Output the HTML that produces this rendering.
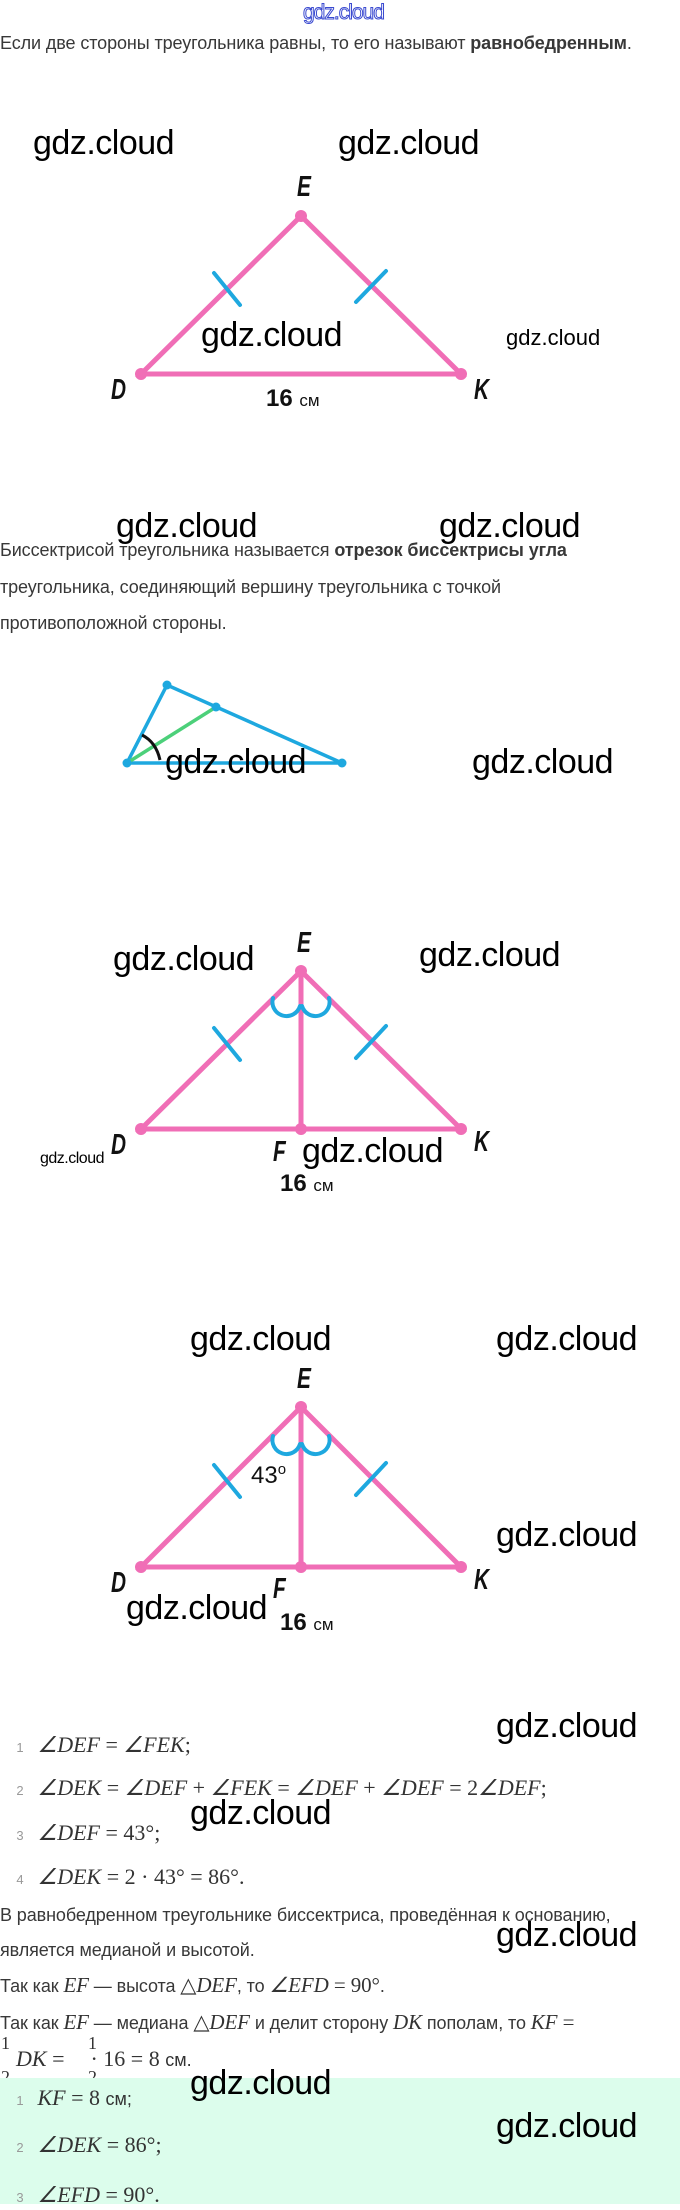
<!DOCTYPE html>
<html><head><meta charset="utf-8">
<style>
*{margin:0;padding:0;box-sizing:border-box}
body{width:680px;height:2204px;position:relative;background:#fff;overflow:hidden;font-family:"Liberation Sans",sans-serif;color:#333}
.a{position:absolute;white-space:nowrap}
.t{font-size:18px;line-height:20px;color:#383838;letter-spacing:-0.1px}
.w{font-size:34px;line-height:34px;color:#000;letter-spacing:-0.5px}
.m{font-family:"Liberation Serif",serif;font-style:italic;font-size:22px;line-height:24px;color:#333}
.n{font-size:13px;color:#999;font-style:normal;font-family:"Liberation Sans",sans-serif;display:inline-block;width:24px;text-align:center}
.r{font-style:normal}
.L{font-size:29px;line-height:30px;font-style:italic;font-weight:bold;color:#111;transform:scaleX(0.72);transform-origin:left}
.cm{font-size:24px;line-height:26px;color:#111;font-weight:bold}
.cm span{font-size:17px;font-weight:normal}
.sp{display:inline-block;width:16px}
</style></head><body>
<div style="position:absolute;left:0;top:2078px;width:680px;height:126px;background:#dcfdec"></div>
<svg class="a" style="left:0;top:0" width="680" height="2204">
<g stroke="#f06eb6" stroke-width="5" fill="none" stroke-linecap="round">
<path d="M141,374 L301,216 L461,374 Z"/>
<path d="M141,1129 L301,971 L461,1129 Z M301,971 L301,1129"/>
<path d="M141,1567 L301,1407 L461,1567 Z M301,1407 L301,1567"/>
</g>
<g fill="#f06eb6">
<circle cx="301" cy="216" r="6"/><circle cx="141" cy="374" r="6"/><circle cx="461" cy="374" r="6"/>
<circle cx="301" cy="971" r="6"/><circle cx="141" cy="1129" r="6"/><circle cx="461" cy="1129" r="6"/><circle cx="301" cy="1129" r="6"/>
<circle cx="301" cy="1407" r="6"/><circle cx="141" cy="1567" r="6"/><circle cx="461" cy="1567" r="6"/><circle cx="301" cy="1567" r="6"/>
</g>
<g stroke="#1ea8df" stroke-width="4" fill="none" stroke-linecap="round">
<path d="M214,273 L240,305 M386,271 L356,302"/>
<path d="M214,1028 L240,1060 M386,1026 L356,1058"/>
<path d="M214,1465 L240,1497 M386,1463 L356,1495"/>
<path d="M273,998 A14,14 0 0 0 300,1006 M302,1006 A14,14 0 0 0 329,998"/>
<path d="M273,1436 A14,14 0 0 0 300,1444 M302,1444 A14,14 0 0 0 329,1436"/>
</g>
<g stroke-width="3.5" fill="none">
<path d="M127,763 L167,685 L342,763 Z" stroke="#1ea8df"/>
<path d="M127,763 L216,707" stroke="#4cd07a"/>
<path d="M142,735 Q156,742 160,760" stroke="#111" stroke-width="3"/>
</g>
<g fill="#1ea8df"><circle cx="167" cy="685" r="4.5"/><circle cx="216" cy="707" r="4.5"/><circle cx="127" cy="763" r="4.5"/><circle cx="342" cy="763" r="4.5"/></g>
</svg>

<div class="a" style="left:303px;top:1px;font-size:21px;color:#fff;-webkit-text-stroke:1px #3a4ad0;letter-spacing:-1px">gdz.cloud</div>
<div class="a t" style="left:0;top:33px">Если две стороны треугольника равны, то его называют <b>равнобедренным</b>.</div>

<div class="a w" style="left:33px;top:126px">gdz.cloud</div>
<div class="a w" style="left:338px;top:126px">gdz.cloud</div>
<div class="a L" style="left:297px;top:172px">E</div>
<div class="a w" style="left:201px;top:318px">gdz.cloud</div>
<div class="a" style="left:506px;top:325px;font-size:22px;color:#000">gdz.cloud</div>
<div class="a L" style="left:111px;top:375px">D</div>
<div class="a L" style="left:474px;top:375px">K</div>
<div class="a cm" style="left:266px;top:386px">16 <span>см</span></div>

<div class="a w" style="left:116px;top:509px">gdz.cloud</div>
<div class="a w" style="left:439px;top:509px">gdz.cloud</div>
<div class="a t" style="left:0;top:540px">Биссектрисой треугольника называется <b>отрезок биссектрисы угла</b></div>
<div class="a t" style="left:0;top:577px">треугольника, соединяющий вершину треугольника с точкой</div>
<div class="a t" style="left:0;top:613px">противоположной стороны.</div>
<div class="a w" style="left:165px;top:745px">gdz.cloud</div>
<div class="a w" style="left:472px;top:745px">gdz.cloud</div>

<div class="a L" style="left:297px;top:928px">E</div>
<div class="a w" style="left:113px;top:942px">gdz.cloud</div>
<div class="a w" style="left:419px;top:938px">gdz.cloud</div>
<div class="a L" style="left:111px;top:1130px">D</div>
<div class="a" style="left:40px;top:1150px;font-size:16px;color:#000;letter-spacing:-0.5px">gdz.cloud</div>
<div class="a L" style="left:273px;top:1137px">F</div>
<div class="a w" style="left:302px;top:1134px">gdz.cloud</div>
<div class="a L" style="left:474px;top:1127px">K</div>
<div class="a cm" style="left:280px;top:1171px">16 <span>см</span></div>

<div class="a w" style="left:190px;top:1322px">gdz.cloud</div>
<div class="a w" style="left:496px;top:1322px">gdz.cloud</div>
<div class="a L" style="left:297px;top:1364px">E</div>
<div class="a" style="left:251px;top:1461px;font-size:24px;color:#111">43<sup style="font-size:15px">o</sup></div>
<div class="a w" style="left:496px;top:1518px">gdz.cloud</div>
<div class="a L" style="left:111px;top:1568px">D</div>
<div class="a L" style="left:273px;top:1574px">F</div>
<div class="a L" style="left:474px;top:1565px">K</div>
<div class="a w" style="left:126px;top:1591px">gdz.cloud</div>
<div class="a cm" style="left:280px;top:1610px">16 <span>см</span></div>

<div class="a w" style="left:496px;top:1709px">gdz.cloud</div>
<div class="a m" style="left:8px;top:1733px"><span class="n">1</span> ∠DEF <span class="r">=</span> ∠FEK<span class="r">;</span></div>
<div class="a m" style="left:8px;top:1776px"><span class="n">2</span> ∠DEK <span class="r">=</span> ∠DEF <span class="r">+</span> ∠FEK <span class="r">=</span> ∠DEF <span class="r">+</span> ∠DEF <span class="r">= 2</span>∠DEF<span class="r">;</span></div>
<div class="a w" style="left:190px;top:1796px">gdz.cloud</div>
<div class="a m" style="left:8px;top:1821px"><span class="n">3</span> ∠DEF <span class="r">= 43°;</span></div>
<div class="a m" style="left:8px;top:1865px"><span class="n">4</span> ∠DEK <span class="r">= 2 · 43° = 86°.</span></div>
<div class="a t" style="left:0;top:1905px">В равнобедренном треугольнике биссектриса, проведённая к основанию,</div>
<div class="a w" style="left:496px;top:1918px">gdz.cloud</div>
<div class="a t" style="left:0;top:1940px">является медианой и высотой.</div>
<div class="a t" style="left:0;top:1973px">Так как <span class="m" style="font-size:21px">EF</span> — высота <span class="m" style="font-size:21px"><span class="r">△</span>DEF</span>, то <span class="m" style="font-size:21px">∠EFD <span class="r">= 90°</span></span>.</div>
<div class="a t" style="left:0;top:2010px">Так как <span class="m" style="font-size:21px">EF</span> — медиана <span class="m" style="font-size:21px"><span class="r">△</span>DEF</span> и делит сторону <span class="m" style="font-size:21px">DK</span> пополам, то <span class="m" style="font-size:21px">KF <span class="r">=</span></span></div>
<div class="a m r" style="left:1px;top:2034px;font-style:normal;font-size:18px;line-height:18px">1</div>
<div class="a m r" style="left:88px;top:2034px;font-style:normal;font-size:18px;line-height:18px">1</div>
<div class="a m" style="left:0;top:2047px"><span class="sp"></span>DK <span class="r">=</span><span class="sp" style="width:26px"></span><span class="r">· 16 = 8</span> <span class="r" style="font-family:'Liberation Sans';font-size:18px">см.</span></div>
<div class="a m r" style="left:1px;top:2068px;font-style:normal;font-size:18px;line-height:18px;height:10px;overflow:hidden">2</div>
<div class="a m r" style="left:88px;top:2068px;font-style:normal;font-size:18px;line-height:18px;height:10px;overflow:hidden">2</div>
<div class="a w" style="left:190px;top:2066px">gdz.cloud</div>
<div class="a m" style="left:8px;top:2086px"><span class="n">1</span> KF <span class="r">= 8 <span style="font-family:'Liberation Sans';font-size:18px">см;</span></span></div>
<div class="a w" style="left:496px;top:2109px">gdz.cloud</div>
<div class="a m" style="left:8px;top:2133px"><span class="n">2</span> ∠DEK <span class="r">= 86°;</span></div>
<div class="a m" style="left:8px;top:2183px"><span class="n">3</span> ∠EFD <span class="r">= 90°.</span></div>
</body></html>
